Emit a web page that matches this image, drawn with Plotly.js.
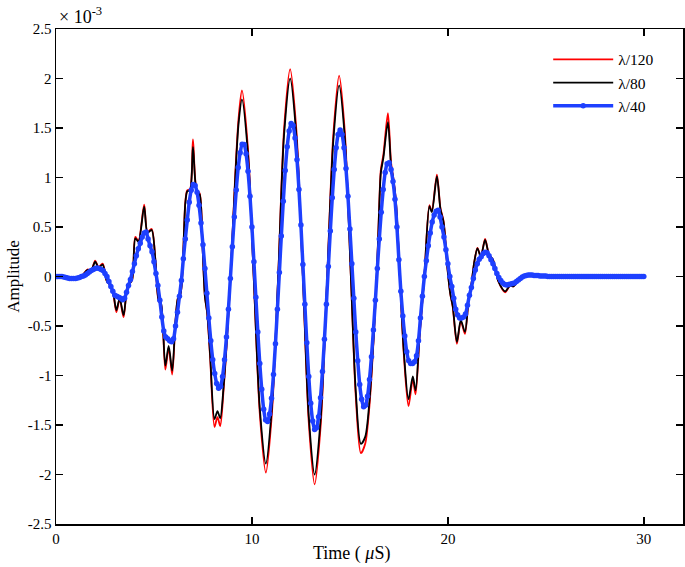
<!DOCTYPE html>
<html>
<head>
<meta charset="utf-8">
<script src="https://cdn.plot.ly/plotly-3.0.1.min.js"></script>
<style>
  html, body { margin: 0; padding: 0; background: #fff; }
  #chart { width: 685px; height: 567px; }
</style>
</head>
<body>
<div id="chart"></div>
<script>
// ---- Data (amplitude in units of 1e-3) ----
const seriesNames = ['\u03bb/120', '\u03bb/80', '\u03bb/40'];

// key-point samples for the fine-resolution runs (λ/120 and λ/80)
const fineTime = [0, 0.5, 1.0, 1.3, 1.6, 1.8, 2.0, 2.17, 2.38, 2.6, 2.77, 2.92, 3.08, 3.25, 3.45, 3.65, 3.88,
  4.05, 4.21, 4.5, 4.67, 4.88, 5.07, 5.24, 5.36, 5.58, 5.75, 5.93, 6.09, 6.22, 6.36, 6.6, 6.7, 6.84, 6.99,
  7.17, 7.33, 7.48, 7.6, 7.72, 7.87, 8.09, 8.24, 8.38, 8.55, 8.7, 8.92, 9.15, 9.32, 9.49, 9.8, 10.1, 10.4,
  10.71, 11.02, 11.35, 11.64, 11.95, 12.27, 12.6, 12.9, 13.2, 13.51, 13.84, 14.15, 14.45, 14.74, 15.05, 15.3,
  15.56, 15.78, 16.0, 16.2, 16.38, 16.5, 16.58, 16.71, 16.94, 17.1, 17.22, 17.35, 17.55, 17.75, 17.99, 18.21,
  18.35, 18.55, 18.8, 19.06, 19.18, 19.44, 19.62, 19.78, 19.98, 20.12, 20.25, 20.46, 20.66, 20.87, 21.05,
  21.2, 21.35, 21.51, 21.68, 21.9, 22.1, 22.3, 22.58, 22.92, 23.18, 23.35, 23.6, 24.0, 24.4, 25, 30];

const amp120 = [0, -0.01, -0.02, 0, 0.07, 0.065, 0.16, 0.095, 0.13, -0.05, -0.09, -0.17, -0.36, -0.23, -0.41, -0.10, -0.035,
  0.40, 0.36, 0.725, 0.45, 0.48, 0.17, -0.25, -0.28, -0.94, -0.72, -0.99, -0.48, -0.22, -0.17, 0.75, 0.87, 0.88, 1.385,
  0.88, 0.84, 0.30, -0.20, -0.38, -0.83, -1.52, -1.42, -1.51, -1.15, -0.72, 0.05, 1.03, 1.6, 1.88, 1.28, -0.05, -1.38,
  -1.98, -1.38, 0.05, 1.49, 2.095, 1.47, 0.0, -1.47, -2.1, -1.5, -0.02, 1.42, 2.03, 1.46, 0.0, -1.21,
  -1.785, -1.69, -1.3, -0.67, 0.05, 0.74, 1.08, 1.23, 1.65, 1.15, 0.99, 0.76, 0.0, -0.78, -1.31, -1.04,
  -1.19, -0.62, 0.0, 0.72, 0.66, 1.03, 0.69, 0.56, 0.08, -0.17, -0.31, -0.68, -0.45, -0.58, -0.25,
  -0.08, 0.15, 0.29, 0.2, 0.38, 0.22, 0.17, -0.05, -0.16, -0.09, -0.10, -0.04, 0.01, 0.015, 0.005, 0];

const amp80 = [0, -0.01, -0.02, 0, 0.065, 0.06, 0.15, 0.09, 0.12, -0.05, -0.085, -0.16, -0.34, -0.22, -0.39, -0.10, -0.035,
  0.385, 0.35, 0.705, 0.44, 0.47, 0.17, -0.24, -0.27, -0.90, -0.70, -0.95, -0.47, -0.22, -0.17, 0.74, 0.86, 0.87, 1.31,
  0.87, 0.83, 0.30, -0.20, -0.37, -0.80, -1.44, -1.36, -1.43, -1.12, -0.70, 0.05, 1.0, 1.55, 1.79, 1.23, -0.05, -1.33,
  -1.89, -1.32, 0.05, 1.43, 2.0, 1.41, 0.0, -1.41, -2.0, -1.43, -0.02, 1.36, 1.93, 1.40, 0.0, -1.16,
  -1.69, -1.62, -1.25, -0.65, 0.05, 0.72, 1.05, 1.20, 1.56, 1.12, 0.975, 0.75, 0.0, -0.75, -1.24, -1.01,
  -1.15, -0.6, 0.0, 0.71, 0.65, 1.01, 0.68, 0.55, 0.08, -0.17, -0.3, -0.66, -0.44, -0.56, -0.25,
  -0.08, 0.15, 0.285, 0.2, 0.37, 0.22, 0.17, -0.05, -0.15, -0.09, -0.10, -0.04, 0.01, 0.015, 0.005, 0];

// λ/40 sampled every 0.1 µs from 0 to 30 µs
const coarseStart = 0, coarseStep = 0.1;
const amp40 = [
  0, 0, 0, 0, -0.005, -0.01, -0.015, -0.02, -0.02, -0.02,
  -0.02, -0.015, -0.01, 0, 0.005, 0.015, 0.03, 0.045, 0.06, 0.07,
  0.08, 0.085, 0.08, 0.07, 0.06, 0.03, 0.0, -0.05, -0.1, -0.15,
  -0.19, -0.2, -0.21, -0.22, -0.235, -0.22, -0.16, -0.09, -0.03, 0.05,
  0.13, 0.21, 0.28, 0.335, 0.4, 0.44, 0.45, 0.38, 0.31, 0.25,
  0.15, 0.03, -0.09, -0.24, -0.41, -0.55, -0.61, -0.63, -0.65, -0.66,
  -0.63, -0.5, -0.36, -0.2, -0.04, 0.18, 0.38, 0.57, 0.75, 0.87,
  0.93, 0.92, 0.85, 0.72, 0.54, 0.32, 0.08, -0.17, -0.42, -0.65,
  -0.84, -0.98, -1.08, -1.13, -1.11, -1.01, -0.84, -0.61, -0.33, -0.02,
  0.3, 0.6, 0.875, 1.1, 1.25, 1.335, 1.334, 1.24, 1.064, 0.81,
  0.5, 0.15, -0.21, -0.56, -0.88, -1.14, -1.34, -1.45, -1.465, -1.39,
  -1.23, -0.99, -0.68, -0.33, 0.04, 0.41, 0.76, 1.07, 1.31, 1.47,
  1.546, 1.524, 1.4, 1.18, 0.88, 0.52, 0.12, -0.28, -0.67, -1.01,
  -1.28, -1.46, -1.545, -1.527, -1.417, -1.225, -0.96, -0.635, -0.28, 0.1,
  0.46, 0.795, 1.08, 1.3, 1.434, 1.48, 1.435, 1.3, 1.09, 0.81,
  0.48, 0.13, -0.22, -0.56, -0.85, -1.09, -1.24, -1.316, -1.3, -1.21,
  -1.04, -0.81, -0.54, -0.24, 0.08, 0.38, 0.65, 0.88, 1.05, 1.14,
  1.15, 1.08, 0.96, 0.78, 0.5, 0.17, -0.15, -0.4, -0.6, -0.76,
  -0.85, -0.88, -0.88, -0.86, -0.8, -0.65, -0.42, -0.2, 0.0, 0.16,
  0.31, 0.44, 0.55, 0.62, 0.66, 0.67, 0.6, 0.5, 0.4, 0.27,
  0.13, 0.0, -0.1, -0.22, -0.33, -0.39, -0.42, -0.42, -0.41, -0.38,
  -0.29, -0.19, -0.11, -0.02, 0.065, 0.13, 0.175, 0.2, 0.23, 0.245,
  0.24, 0.21, 0.17, 0.13, 0.08, 0.03, -0.01, -0.04, -0.065, -0.08,
  -0.085, -0.08, -0.075, -0.07, -0.065, -0.05, -0.035, -0.02, -0.005, 0.005,
  0.01, 0.015, 0.015, 0.015, 0.01, 0.01, 0.01, 0.005, 0.005, 0.005,
  0.005, 0, 0, 0, 0, 0, 0, 0, 0, 0,
  0, 0, 0, 0, 0, 0, 0, 0, 0, 0,
  0, 0, 0, 0, 0, 0, 0, 0, 0, 0,
  0, 0, 0, 0, 0, 0, 0, 0, 0, 0,
  0, 0, 0, 0, 0, 0, 0, 0, 0, 0,
  0
];
const coarseTime = amp40.map((_, i) => +(coarseStart + i * coarseStep).toFixed(2));

const xTickVals = [0, 10, 20, 30];
const xTickText = ['0', '10', '20', '30'];
const yTickVals = [-2.5, -2, -1.5, -1, -0.5, 0, 0.5, 1, 1.5, 2, 2.5];
const yTickText = ['-2.5', '-2', '-1.5', '-1', '-0.5', '0', '0.5', '1', '1.5', '2', '2.5'];

// ---- Chart ----
const SERIF = 'Liberation Serif, Times New Roman, serif';
const BLUE = 'rgb(30,64,255)';

const traces = [
  { x: fineTime, y: amp120, name: seriesNames[0], type: 'scatter', mode: 'lines',
    line: { color: '#ff0000', width: 1.8, shape: 'spline', smoothing: 0.8 } },
  { x: fineTime, y: amp80, name: seriesNames[1], type: 'scatter', mode: 'lines',
    line: { color: '#000000', width: 1.8, shape: 'spline', smoothing: 0.8 } },
  { x: coarseTime, y: amp40, name: seriesNames[2], type: 'scatter', mode: 'lines+markers',
    line: { color: BLUE, width: 3.5, shape: 'spline', smoothing: 0.6 },
    marker: { color: BLUE, size: 5.5 } }
];

const axisCommon = {
  showline: true, mirror: 'ticks', linecolor: '#000', linewidth: 1.5,
  ticks: 'inside', ticklen: 7, tickwidth: 1.5, tickcolor: '#000',
  showgrid: false, zeroline: false,
  tickfont: { family: SERIF, size: 15, color: '#000' }
};

const layout = {
  width: 685, height: 567,
  margin: { l: 56, r: 2, t: 29, b: 43 },
  paper_bgcolor: '#fff', plot_bgcolor: '#fff',
  font: { family: SERIF, color: '#000' },
  showlegend: true,
  legend: {
    x: 0.785, y: 0.972, xanchor: 'left', yanchor: 'top',
    bgcolor: 'rgba(255,255,255,0)', borderwidth: 0,
    font: { family: SERIF, size: 15.5, color: '#000' },
    itemwidth: 60, tracegroupgap: 0
  },
  xaxis: Object.assign({}, axisCommon, {
    range: [0, 32], tickvals: xTickVals, ticktext: xTickText
  }),
  yaxis: Object.assign({}, axisCommon, {
    range: [-2.5, 2.5], tickvals: yTickVals, ticktext: yTickText,
    title: { text: 'Amplitude', font: { family: SERIF, size: 17, color: '#000' }, standoff: 4 }
  }),
  annotations: [
    {
      xref: 'paper', yref: 'paper', x: 0.002, y: 1.0, xanchor: 'left', yanchor: 'bottom',
      text: '\u00d7 10<sup>-3</sup>', showarrow: false,
      font: { family: SERIF, size: 18, color: '#000' }
    },
    {
      xref: 'paper', yref: 'paper', x: 0.472, y: -0.059, xanchor: 'center', yanchor: 'middle',
      text: 'Time ( <i>\u03bc</i>S)', showarrow: false,
      font: { family: SERIF, size: 18, color: '#000' }
    }
  ]
};

Plotly.newPlot('chart', traces, layout, { displayModeBar: false, staticPlot: true });
</script>
</body>
</html>
